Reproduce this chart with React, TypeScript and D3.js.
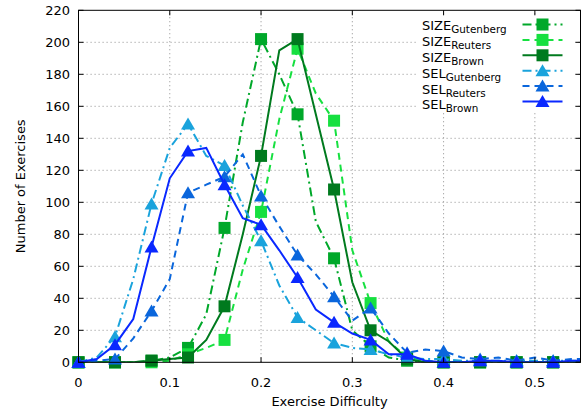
import React from 'react';
import * as d3 from 'd3';

const difficulty = [0, 0.02, 0.04, 0.06, 0.08, 0.1, 0.12, 0.14, 0.16, 0.18, 0.2, 0.22, 0.24, 0.26, 0.28, 0.3, 0.32, 0.34, 0.36, 0.38, 0.4, 0.42, 0.44, 0.46, 0.48, 0.5, 0.52, 0.54, 0.56];

const sizeGutenberg = [0, 0, 0, 0, 1, 3, 9, 30, 84, 150, 202, 180, 155, 88, 65, 20, 10, 3, 1, 0, 0, 0, 0, 0, 0, 0, 0, 0, 0];
const sizeReuters = [0, 0, 0, 0, 0, 1, 5, 9, 14, 58, 94, 152, 196, 168, 151, 70, 37, 13, 3, 1, 0, 0, 0, 0, 0, 0, 0, 0, 0];
const sizeBrown = [0, 0, 0, 0, 1, 2, 3, 14, 35, 80, 129, 195, 202, 155, 108, 50, 20, 13, 2, 0, 0, 0, 0, 0, 0, 0, 0, 0, 0];
const selGutenberg = [0, 3, 16, 52, 99, 134, 149, 129, 123, 98, 76, 48, 28, 20, 12, 9, 8, 5, 3, 2, 2, 1, 1, 1, 1, 1, 1, 1, 1];
const selReuters = [0, 1, 2, 15, 32, 52, 106, 111, 116, 130, 104, 85, 67, 55, 41, 26, 34, 18, 6, 8, 7, 3, 2, 3, 1, 3, 1, 2, 2];
const selBrown = [0, 2, 11, 27, 72, 115, 132, 134, 111, 90, 86, 70, 53, 33, 25, 18, 14, 5, 5, 1, 0, 0, 1, 1, 0, 0, 0, 1, 1];

const seriesMain = ['SIZE', 'SIZE', 'SIZE', 'SEL', 'SEL', 'SEL'];
const seriesSub = ['Gutenberg', 'Reuters', 'Brown', 'Gutenberg', 'Reuters', 'Brown'];
const seriesValues = [sizeGutenberg, sizeReuters, sizeBrown, selGutenberg, selReuters, selBrown];

const xTicks = [0, 0.1, 0.2, 0.3, 0.4, 0.5];
const yTicks = [0, 20, 40, 60, 80, 100, 120, 140, 160, 180, 200, 220];

const colors = ['#00a82a', '#16e040', '#007a1e', '#1aa3dc', '#0a66dc', '#0a28ff'];
const dashes = ['9,4,2,4', '7,5', undefined, '9,4,2,4', '7,5', undefined];
const markers = ['square', 'square', 'square', 'triangle', 'triangle', 'triangle'];

const FONT = 'DejaVu Sans, sans-serif';

function Marker({ cx, cy, type, color }: { cx: number; cy: number; type: string; color: string }) {
  if (type === 'square') {
    return <rect x={cx - 6} y={cy - 6} width={12} height={12} fill={color} />;
  }
  return <path d={`M${cx},${cy - 6.5} L${cx + 7},${cy + 5.5} L${cx - 7},${cy + 5.5} Z`} fill={color} />;
}

export default function App() {
  const W = 586, H = 412;
  const x = d3.scaleLinear().domain([0, 0.55]).range([78.5, 580.5]);
  const y = d3.scaleLinear().domain([0, 220]).range([362.3, 10.3]);
  const [x0, x1] = x.range();
  const [y0, y1] = y.range();

  const line = d3.line<number>()
    .x((_, i) => x(difficulty[i]))
    .y((d) => y(d));

  const legendLineY = (i: number) => 24.5 + i * 15.4;
  const legendTextY = (i: number) => 30.3 + i * 15.8;

  return (
    <svg width={W} height={H} style={{ position: 'absolute', left: 0, top: 0, background: '#fff' }} fontFamily={FONT}>
      <defs>
        <clipPath id="plotclip">
          <rect x={x0} y={y1} width={x1 - x0} height={y0 - y1} />
        </clipPath>
      </defs>
      <rect x={0} y={0} width={W} height={H} fill="#fff" />
      {/* grid */}
      {yTicks.filter((t) => t > 0 && t < 220).map((t) => (
        <line key={'gy' + t} x1={x0} x2={x1} y1={y(t)} y2={y(t)} stroke="#a0a0a0" strokeWidth={1} strokeDasharray="1.2,2.8" />
      ))}
      {xTicks.filter((t) => t > 0).map((t) => (
        <line key={'gx' + t} x1={x(t)} x2={x(t)} y1={y0} y2={y1} stroke="#a0a0a0" strokeWidth={1} strokeDasharray="1.2,2.8" />
      ))}
      {/* legend background */}
      <rect x={418} y={15} width={157} height={97.5} fill="#fff" />
      {/* series */}
      {seriesValues.map((vals, s) => (
        <g key={'s' + s}>
          <path d={line(vals) || ''} fill="none" stroke={colors[s]} strokeWidth={2} strokeDasharray={dashes[s]} clipPath="url(#plotclip)" strokeLinejoin="miter" />
          {vals.map((v, i) => (i % 2 === 0 && difficulty[i] <= 0.55 ? (
            <Marker key={i} cx={x(difficulty[i])} cy={y(v)} type={markers[s]} color={colors[s]} />
          ) : null))}
        </g>
      ))}
      {/* legend */}
      {seriesValues.map((_, s) => (
        <g key={'l' + s}>
          <text x={422} y={legendTextY(s)} fontSize={13} fill="#000">
            {seriesMain[s]}
            <tspan fontSize={10.4} dy={3}>{seriesSub[s]}</tspan>
          </text>
          <line x1={522.5} x2={562.5} y1={legendLineY(s)} y2={legendLineY(s)} stroke={colors[s]} strokeWidth={2} strokeDasharray={dashes[s]} />
          <Marker cx={542.5} cy={legendLineY(s)} type={markers[s]} color={colors[s]} />
        </g>
      ))}
      {/* frame and ticks */}
      <rect x={x0} y={y1} width={x1 - x0} height={y0 - y1} fill="none" stroke="#000" strokeWidth={1} />
      {yTicks.map((t) => (
        <g key={'ty' + t}>
          <line x1={x0} x2={x0 + 5} y1={y(t)} y2={y(t)} stroke="#000" />
          <line x1={x1} x2={x1 - 5} y1={y(t)} y2={y(t)} stroke="#000" />
          <text x={70} y={y(t) + 4.6} fontSize={13} textAnchor="end" fill="#000">{t}</text>
        </g>
      ))}
      {xTicks.map((t) => (
        <g key={'tx' + t}>
          <line x1={x(t)} x2={x(t)} y1={y0} y2={y0 - 5} stroke="#000" />
          <line x1={x(t)} x2={x(t)} y1={y1} y2={y1 + 5} stroke="#000" />
          <text x={x(t)} y={386.5} fontSize={13} textAnchor="middle" fill="#000">{t === 0 ? '0' : String(t)}</text>
        </g>
      ))}
      <text x={329.5} y={406} fontSize={13} textAnchor="middle" fill="#000">Exercise Difficulty</text>
      <text transform={`translate(24.5,${(y0 + y1) / 2}) rotate(-90)`} fontSize={13} textAnchor="middle" fill="#000">Number of Exercises</text>
    </svg>
  );
}
